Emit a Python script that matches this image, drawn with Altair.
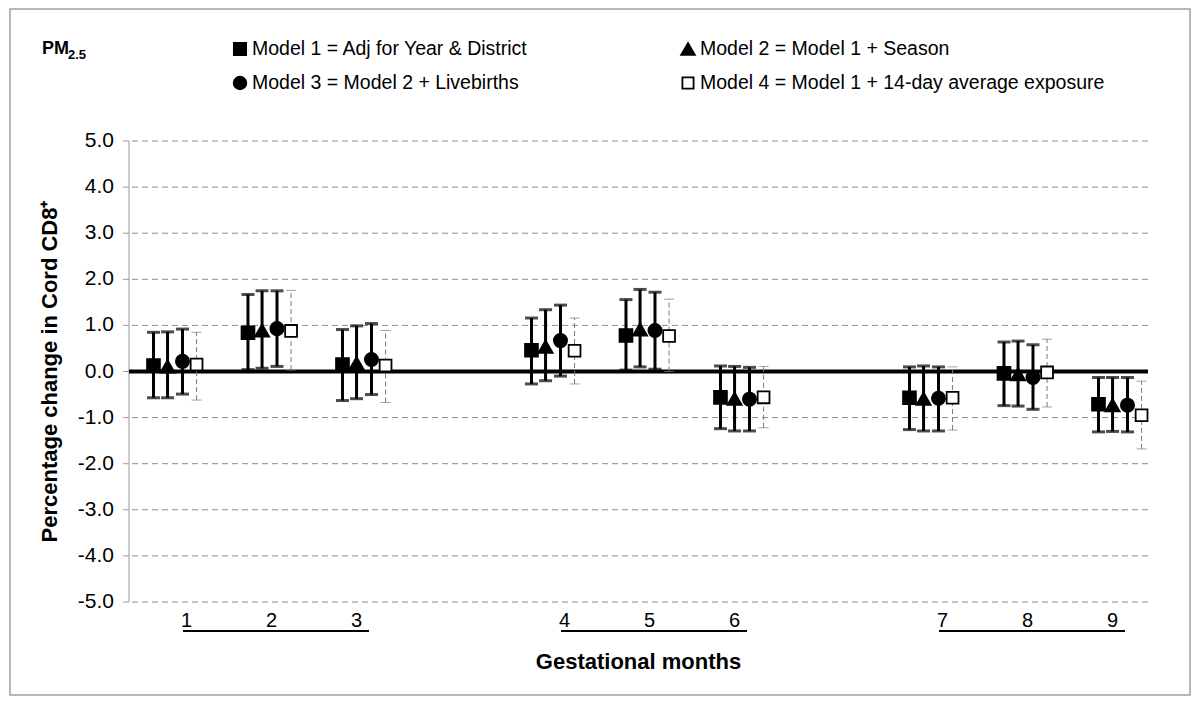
import altair as alt
import pandas as pd

# ---------------- data ----------------
months = [1, 2, 3, 4, 5, 6, 7, 8, 9]
models = [
    "Model 1 = Adj for Year & District",
    "Model 2 = Model 1 + Season",
    "Model 3 = Model 2 + Livebirths",
    "Model 4 = Model 1 + 14-day average exposure",
]

m1_est = [0.13, 0.84, 0.15, 0.46, 0.78, -0.56, -0.57, -0.04, -0.71]
m1_lo = [-0.57, 0.04, -0.63, -0.27, 0.03, -1.24, -1.26, -0.74, -1.31]
m1_hi = [0.85, 1.67, 0.91, 1.16, 1.56, 0.12, 0.10, 0.64, -0.13]

m2_est = [0.11, 0.89, 0.18, 0.54, 0.91, -0.59, -0.59, -0.06, -0.73]
m2_lo = [-0.57, 0.07, -0.59, -0.20, 0.10, -1.29, -1.29, -0.75, -1.30]
m2_hi = [0.86, 1.75, 0.99, 1.34, 1.78, 0.11, 0.12, 0.66, -0.13]

m3_est = [0.22, 0.93, 0.26, 0.67, 0.89, -0.60, -0.58, -0.13, -0.73]
m3_lo = [-0.49, 0.11, -0.50, -0.10, 0.05, -1.29, -1.29, -0.82, -1.31]
m3_hi = [0.92, 1.75, 1.04, 1.44, 1.72, 0.09, 0.10, 0.58, -0.13]

m4_est = [0.15, 0.88, 0.13, 0.45, 0.77, -0.56, -0.57, -0.02, -0.95]
m4_lo = [-0.62, 0.03, -0.67, -0.27, 0.00, -1.22, -1.27, -0.77, -1.68]
m4_hi = [0.85, 1.76, 0.89, 1.16, 1.57, 0.11, 0.10, 0.70, -0.21]

y_ticks = [-5, -4, -3, -2, -1, 0, 1, 2, 3, 4, 5]
y_tick_labels = ["-5.0", "-4.0", "-3.0", "-2.0", "-1.0", "0.0", "1.0", "2.0", "3.0", "4.0", "5.0"]
group_first = [1, 4, 7]
group_last = [3, 6, 9]

# ---------------- table ----------------
ests = [m1_est, m2_est, m3_est, m4_est]
los = [m1_lo, m2_lo, m3_lo, m4_lo]
his = [m1_hi, m2_hi, m3_hi, m4_hi]
model_offsets = [-0.228, -0.079, 0.079, 0.228]


def slot(m):
    # categories with an empty slot between each trimester
    return (m - 1) + (m - 1) // 3


def label_slot(m):
    # labels are drawn slightly packed toward the middle of their trimester
    mid = slot(3 * ((m - 1) // 3) + 2)
    return slot(m) + (mid - slot(m)) * 0.1


rows = []
for i, name in enumerate(models):
    for j, m in enumerate(months):
        rows.append({
            "model": name,
            "month": m,
            "pos": slot(m) + model_offsets[i],
            "est": ests[i][j],
            "lo": los[i][j],
            "hi": his[i][j],
            "solid": i < 3,
        })
df = pd.DataFrame(rows)
solid = df[df["solid"]]
dashed = df[~df["solid"]]

ytick_df = pd.DataFrame({"v": y_ticks, "label": y_tick_labels})
month_df = pd.DataFrame({"month": months, "pos": [label_slot(m) for m in months]})
groups = pd.DataFrame({
    "start": [slot(m) for m in group_first],
    "end": [slot(m) for m in group_last],
})

FONT = "Liberation Sans"
W, H = 1019, 461
xs = alt.Scale(domain=[-0.487, 10.296], nice=False, zero=False)
ys = alt.Scale(domain=[-5, 5], nice=False, zero=False)
one = pd.DataFrame({"k": [0]})

# ---------------- axes, drawn from the tick table ----------------
grid = alt.Chart(ytick_df).mark_rule(color="#8c8c8c", strokeWidth=1, strokeDash=[6, 4]).encode(
    y=alt.Y("v:Q", scale=ys, axis=None)
)
y_domain = alt.Chart(one).mark_rule(color="#9a9a9a", strokeWidth=1).encode(
    x=alt.value(0), y=alt.value(0), y2=alt.value(H)
)
y_tickmarks = alt.Chart(ytick_df).mark_rule(color="#9a9a9a", strokeWidth=1).encode(
    x=alt.value(-6), x2=alt.value(0), y=alt.Y("v:Q", scale=ys, axis=None)
)
y_labels = alt.Chart(ytick_df).mark_text(
    font=FONT, fontSize=21, color="black", align="right", baseline="middle"
).encode(x=alt.value(-15), y=alt.Y("v:Q", scale=ys, axis=None), text="label:N")
y_title = alt.Chart(pd.DataFrame({"t": ["Percentage change in Cord CD8\u207a"]})).mark_text(
    font=FONT, fontSize=22, fontWeight="bold", color="black", angle=270,
    align="center", baseline="middle"
).encode(x=alt.value(-79), y=alt.value(H / 2), text="t:N")
x_title = alt.Chart(pd.DataFrame({"t": ["Gestational months"]})).mark_text(
    font=FONT, fontSize=22, fontWeight="bold", color="black", align="center", baseline="middle"
).encode(x=alt.value(W / 2), y=alt.value(521), text="t:N")

zero = alt.Chart(pd.DataFrame({"z": [0]})).mark_rule(color="black", strokeWidth=4).encode(
    y=alt.Y("z:Q", scale=ys, axis=None)
)

# ---------------- error bars ----------------
dash_bar = alt.Chart(dashed).mark_rule(color="#7a7a7a", strokeWidth=1, strokeDash=[5, 3]).encode(
    x=alt.X("pos:Q", scale=xs, axis=None),
    y=alt.Y("lo:Q", scale=ys, axis=None),
    y2="hi:Q",
)
dash_cap = alt.Chart(dashed).transform_fold(["lo", "hi"], as_=["k", "v"]).mark_tick(
    orient="horizontal", color="#7a7a7a", size=10, thickness=1
).encode(
    x=alt.X("pos:Q", scale=xs, axis=None),
    y=alt.Y("v:Q", scale=ys, axis=None),
)
solid_bar = alt.Chart(solid).mark_rule(color="black", strokeWidth=3).encode(
    x=alt.X("pos:Q", scale=xs, axis=None),
    y=alt.Y("lo:Q", scale=ys, axis=None),
    y2="hi:Q",
)
solid_cap = alt.Chart(solid).transform_fold(["lo", "hi"], as_=["k", "v"]).mark_tick(
    orient="horizontal", color="black", size=13, thickness=3
).encode(
    x=alt.X("pos:Q", scale=xs, axis=None),
    y=alt.Y("v:Q", scale=ys, axis=None),
)

# ---------------- markers + legend ----------------
shapes = ["square", "triangle-up", "circle", "square"]
fills = ["black", "black", "black", "white"]
sizes = [165, 200, 175, 140]
leg_x = [111, 559, 111, 559]
leg_y = [-92, -92, -58, -58]

marker_layers = []
legend_layers = []
for i, name in enumerate(models):
    marker_layers.append(
        alt.Chart(df[df["model"] == name]).mark_point(
            shape=shapes[i], filled=True, fill=fills[i], stroke="black",
            strokeWidth=1.8, opacity=1, size=sizes[i]
        ).encode(
            x=alt.X("pos:Q", scale=xs, axis=None),
            y=alt.Y("est:Q", scale=ys, axis=None),
        )
    )
    legend_layers.append(
        alt.Chart(one).mark_point(
            shape=shapes[i], filled=True, fill=fills[i], stroke="black",
            strokeWidth=1.8, opacity=1, size=sizes[i] - 15
        ).encode(x=alt.value(leg_x[i]), y=alt.value(leg_y[i]))
    )
    legend_layers.append(
        alt.Chart(pd.DataFrame({"t": [name]})).mark_text(
            font=FONT, fontSize=19.5, color="black", align="left", baseline="middle"
        ).encode(x=alt.value(leg_x[i] + 12), y=alt.value(leg_y[i]), text="t:N")
    )

month_labels = alt.Chart(month_df).mark_text(
    font=FONT, fontSize=20, color="black", baseline="middle", dx=2
).encode(
    x=alt.X("pos:Q", scale=xs, axis=None),
    y=alt.value(480),
    text="month:N",
)
underline = alt.Chart(groups).mark_rule(color="black", strokeWidth=2, xOffset=8, x2Offset=5).encode(
    x=alt.X("start:Q", scale=xs, axis=None),
    x2="end:Q",
    y=alt.value(490),
)

pm = alt.Chart(pd.DataFrame({"t": ["PM"]})).mark_text(
    font=FONT, fontSize=18, fontWeight="bold", align="left", baseline="middle", color="black"
).encode(text="t:N", x=alt.value(-87), y=alt.value(-92))
pm_sub = alt.Chart(pd.DataFrame({"t": ["2.5"]})).mark_text(
    font=FONT, fontSize=13, fontWeight="bold", align="left", baseline="middle", color="black"
).encode(text="t:N", x=alt.value(-61), y=alt.value(-86))

frame = alt.Chart(one).mark_rect(
    fill="transparent", stroke="#a0a0a0", strokeWidth=1.5
).encode(x=alt.value(-119), x2=alt.value(1061), y=alt.value(-132), y2=alt.value(554))

chart = alt.layer(
    grid, y_domain, y_tickmarks, y_labels, y_title, x_title, zero,
    dash_bar, dash_cap, solid_bar, solid_cap, *marker_layers,
    month_labels, underline, pm, pm_sub, *legend_layers, frame
).properties(
    width=W, height=H,
    autosize=alt.AutoSizeParams(type="none"),
    padding={"left": 121, "top": 133, "right": 44, "bottom": 95},
    background="white",
).configure_view(stroke=None)

chart.save("out.html", embed_options={"renderer": "svg", "actions": False})
